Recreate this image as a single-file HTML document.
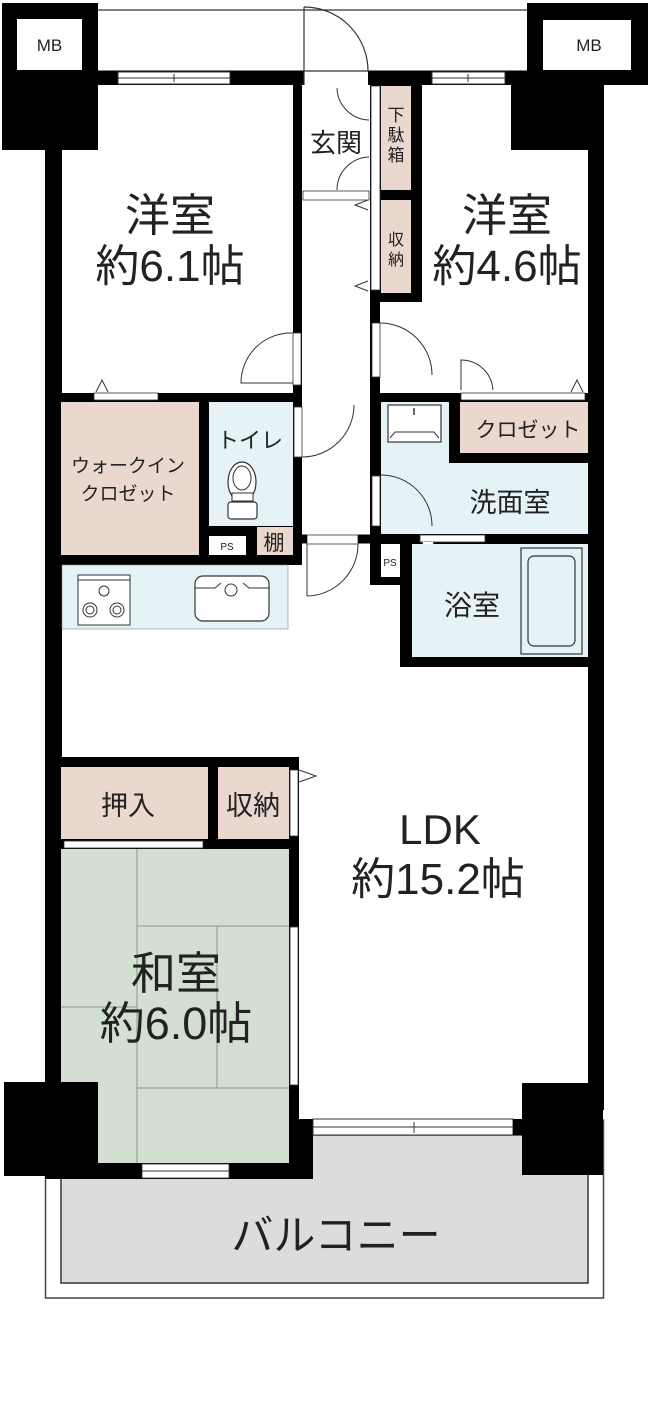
<!DOCTYPE html>
<html><head><meta charset="utf-8"><style>
html,body{margin:0;padding:0;background:#fff;}
svg{display:block;}
text{font-family:"Liberation Sans","Noto Sans CJK JP",sans-serif;fill:#222;}
</style></head><body>
<svg width="648" height="1425" viewBox="0 0 648 1425" xmlns="http://www.w3.org/2000/svg">
<!-- balcony -->
<rect x="45.5" y="1120" width="558" height="178" fill="#fff" stroke="#444" stroke-width="1.5"/>
<rect x="61" y="1135" width="527" height="148" fill="#dcdcdc" stroke="#333" stroke-width="1.5"/>
<!-- corridor outline -->
<line x1="98" y1="10" x2="530" y2="10" stroke="#333" stroke-width="1.2"/>
<line x1="98" y1="71" x2="530" y2="71" stroke="#333" stroke-width="1.2"/>
<!-- MB blocks -->
<rect x="2" y="3" width="96" height="147" fill="#000"/>
<rect x="17" y="19" width="65" height="51" fill="#fff"/>
<text x="49.5" y="51" font-size="17" text-anchor="middle">MB</text>
<rect x="527" y="3" width="121" height="82" fill="#000"/>
<rect x="543" y="20" width="88" height="50" fill="#fff"/>
<text x="589" y="51" font-size="17" text-anchor="middle">MB</text>
<rect x="511" y="80" width="85" height="70" fill="#000"/>
<!-- top wall -->
<rect x="98" y="71" width="206" height="14" fill="#000"/>
<rect x="368" y="71" width="162" height="14" fill="#000"/>
<!-- left outer wall -->
<rect x="45" y="148" width="17" height="1031" fill="#000"/>
<!-- right outer wall -->
<rect x="588" y="80" width="16" height="1030" fill="#000"/>
<!-- windows top -->
<rect x="118" y="72" width="112" height="12" fill="#fff" stroke="#333" stroke-width="1"/>
<line x1="118" y1="78" x2="230" y2="78" stroke="#333"/><line x1="174" y1="74" x2="174" y2="82" stroke="#333"/>
<rect x="432" y="72" width="73" height="12" fill="#fff" stroke="#333" stroke-width="1"/>
<line x1="432" y1="78" x2="505" y2="78" stroke="#333"/><line x1="468" y1="74" x2="468" y2="82" stroke="#333"/>
<!-- entrance door -->
<line x1="304" y1="7" x2="304" y2="85" stroke="#333" stroke-width="1.2"/>
<path d="M304,7 A64,64 0 0 1 368,71" fill="none" stroke="#333" stroke-width="1.2"/>
<!-- corridor walls -->
<rect x="293" y="78" width="9" height="322" fill="#000"/>
<rect x="370" y="71" width="52" height="231" fill="#000"/>
<rect x="371" y="86" width="9" height="204" fill="#fff" stroke="#333" stroke-width="0.8"/>
<rect x="381" y="86" width="30" height="104" fill="#ead8cf"/>
<rect x="381" y="200" width="30" height="93" fill="#ead8cf"/>
<text font-size="17" text-anchor="middle"><tspan x="396" y="121">下</tspan><tspan x="396" y="141">駄</tspan><tspan x="396" y="161">箱</tspan></text>
<text font-size="16" text-anchor="middle"><tspan x="396" y="245">収</tspan><tspan x="396" y="265">納</tspan></text>
<rect x="370" y="300" width="10" height="100" fill="#000"/>
<!-- genkan -->
<rect x="303" y="191" width="66" height="9" fill="#fff" stroke="#333" stroke-width="0.8"/>
<path d="M369,120 A33,33 0 0 1 337,88" fill="none" stroke="#333"/>
<path d="M369,157 A33,33 0 0 0 337,190" fill="none" stroke="#333"/>
<text x="336" y="152" font-size="26" text-anchor="middle">玄関</text>
<path d="M368,200 L355,205 L368,210" fill="#fff" stroke="#333"/>
<path d="M368,281 L355,286 L368,291" fill="#fff" stroke="#333"/>
<!-- room labels top -->
<text x="170" y="231" font-size="45" text-anchor="middle">洋室</text>
<text x="170" y="281" font-size="44" text-anchor="middle">約6.1帖</text>
<text x="507" y="231" font-size="45" text-anchor="middle">洋室</text>
<text x="507" y="281" font-size="44" text-anchor="middle">約4.6帖</text>
<!-- left room door -->
<rect x="293" y="333" width="8" height="52" fill="#fff" stroke="#333" stroke-width="0.8"/>
<path d="M293,333 A50,50 0 0 0 241,383 L293,383" fill="none" stroke="#333"/>
<!-- right room door -->
<rect x="372" y="323" width="8" height="54" fill="#fff" stroke="#333" stroke-width="0.8"/>
<path d="M380,323 A52,52 0 0 1 432,375" fill="none" stroke="#333"/>
<path d="M461,390 L461,360 A32,32 0 0 1 493,390" fill="none" stroke="#333"/>
<!-- triangles -->
<path d="M96,392 L102,380 L108,392" fill="#fff" stroke="#333"/>
<path d="M571,392 L577,380 L583,392" fill="#fff" stroke="#333"/>
<!-- middle horizontal walls -->
<rect x="48" y="393" width="254" height="9" fill="#000"/>
<rect x="94" y="393" width="64" height="7" fill="#fff" stroke="#333" stroke-width="0.8"/>
<rect x="370" y="393" width="234" height="9" fill="#000"/>
<rect x="461" y="393" width="124" height="7" fill="#fff" stroke="#333" stroke-width="0.8"/>
<!-- WIC -->
<rect x="48" y="402" width="254" height="163" fill="#000"/>
<rect x="61" y="402" width="138" height="153" fill="#ead8cf"/>
<text font-size="19" text-anchor="middle"><tspan x="128" y="472">ウォークイン</tspan><tspan x="128" y="500">クロゼット</tspan></text>
<rect x="209" y="402" width="84" height="124" fill="#e5f3f7"/>
<text x="250" y="448" font-size="22" text-anchor="middle">トイレ</text>
<ellipse cx="242" cy="482" rx="14" ry="20" fill="#fff" stroke="#333" stroke-width="1.2"/>
<ellipse cx="242" cy="478" rx="9" ry="12" fill="#fff" stroke="#333"/>
<rect x="232" y="493" width="21" height="8" fill="#fff" stroke="#333"/>
<rect x="228" y="502" width="29" height="17" rx="3" fill="#fff" stroke="#333" stroke-width="1.2"/>
<rect x="209" y="536" width="37" height="19" fill="#fff"/>
<text x="227" y="550" font-size="10" text-anchor="middle">PS</text>
<rect x="257" y="527" width="36" height="28" fill="#ead8cf"/>
<text x="274" y="550" font-size="21" text-anchor="middle">棚</text>
<!-- toilet door -->
<rect x="294" y="407" width="8" height="50" fill="#fff" stroke="#333" stroke-width="0.8"/>
<path d="M354,405 A52,52 0 0 1 302,457" fill="none" stroke="#333"/>
<!-- kitchen -->
<rect x="62" y="565" width="226" height="64" fill="#e5f3f7" stroke="#888" stroke-width="0.6"/>
<rect x="78" y="575" width="52" height="50" fill="#fff" stroke="#333"/>
<line x1="78" y1="580" x2="130" y2="580" stroke="#333"/>
<circle cx="104" cy="591" r="5" fill="#fff" stroke="#333"/>
<circle cx="90" cy="610" r="7" fill="#fff" stroke="#333"/><circle cx="90" cy="610" r="4" fill="none" stroke="#333"/>
<circle cx="117" cy="610" r="7" fill="#fff" stroke="#333"/><circle cx="117" cy="610" r="4" fill="none" stroke="#333"/>
<rect x="195" y="576" width="74" height="45" rx="8" fill="#fff" stroke="#333" stroke-width="1.2"/>
<path d="M195,588 L215,588 L221,583 M269,588 L249,588 L243,583" fill="none" stroke="#333"/>
<circle cx="231" cy="590" r="6" fill="#fff" stroke="#333"/>
<!-- kitchen corridor door -->
<rect x="307" y="535" width="51" height="9" fill="#fff" stroke="#333" stroke-width="0.8"/>
<line x1="302" y1="539" x2="307" y2="539" stroke="#000" stroke-width="9"/>
<line x1="358" y1="539" x2="370" y2="539" stroke="#000" stroke-width="9"/>
<line x1="307" y1="544" x2="307" y2="596" stroke="#333"/>
<path d="M358,544 A52,52 0 0 1 307,596" fill="none" stroke="#333"/>
<!-- right wet area -->
<rect x="370" y="402" width="234" height="265" fill="#000"/>
<rect x="381" y="402" width="207" height="132" fill="#e5f3f7"/>
<rect x="460" y="402" width="128" height="51" fill="#ead8cf"/>
<rect x="449" y="402" width="11" height="61" fill="#000"/>
<rect x="449" y="453" width="139" height="10" fill="#000"/>
<text x="528" y="437" font-size="21" text-anchor="middle">クロゼット</text>
<rect x="388" y="405" width="53" height="37" fill="#fff" stroke="#333" stroke-width="1.2"/>
<path d="M390,438 L395,432 L434,432 L439,438" fill="none" stroke="#333"/>
<line x1="414" y1="408" x2="414" y2="415" stroke="#333" stroke-width="1.5"/>
<text x="510" y="512" font-size="27" text-anchor="middle">洗面室</text>
<rect x="372" y="476" width="8" height="50" fill="#fff" stroke="#333" stroke-width="0.8"/>
<path d="M381,475 A51,51 0 0 1 432,526" fill="none" stroke="#333"/>
<rect x="420" y="535" width="65" height="7" fill="#fff" stroke="#333" stroke-width="0.8"/>
<path d="M422,542 L428,558 L434,542" fill="#fff" stroke="#333"/>
<rect x="381" y="544" width="19" height="33" fill="#fff"/>
<text x="390" y="566" font-size="10" text-anchor="middle">PS</text>
<rect x="400" y="577" width="12" height="90" fill="#000"/>
<rect x="370" y="585" width="30" height="82" fill="#fff"/>
<rect x="412" y="544" width="176" height="113" fill="#e5f3f7"/>
<rect x="521" y="548" width="61" height="106" fill="#e5f3f7" stroke="#333" stroke-width="1.2"/>
<rect x="528" y="556" width="47" height="90" rx="6" fill="#e5f3f7" stroke="#333" stroke-width="1.2"/>
<text x="472" y="615" font-size="28" text-anchor="middle">浴室</text>
<!-- washitsu block -->
<rect x="48" y="757" width="251" height="422" fill="#000"/>
<rect x="61" y="767" width="147" height="72" fill="#ead8cf"/>
<rect x="218" y="767" width="71" height="72" fill="#ead8cf"/>
<rect x="290" y="770" width="8" height="66" fill="#fff" stroke="#333" stroke-width="0.8"/>
<path d="M299,770 L316,776 L299,782" fill="#fff" stroke="#333"/>
<text x="128" y="815" font-size="27" text-anchor="middle">押入</text>
<text x="253" y="815" font-size="27" text-anchor="middle">収納</text>
<rect x="64" y="841" width="139" height="7" fill="#fff" stroke="#333" stroke-width="0.8"/>
<rect x="61" y="849" width="228" height="314" fill="#d3dfd0"/>
<g stroke="#8a9a88" stroke-width="1">
<line x1="137" y1="849" x2="137" y2="1163"/>
<line x1="137" y1="926" x2="289" y2="926"/>
<line x1="217" y1="926" x2="217" y2="1088"/>
<line x1="61" y1="1007" x2="137" y2="1007"/>
<line x1="137" y1="1088" x2="289" y2="1088"/>
</g>
<rect x="290" y="927" width="8" height="158" fill="#fff" stroke="#333" stroke-width="0.8"/>
<text x="176" y="989" font-size="45" text-anchor="middle">和室</text>
<text x="176" y="1039" font-size="45" text-anchor="middle">約6.0帖</text>
<rect x="142" y="1164" width="87" height="14" fill="#fff" stroke="#333" stroke-width="0.8"/>
<line x1="142" y1="1171" x2="229" y2="1171" stroke="#333"/>
<rect x="4" y="1082" width="94" height="94" fill="#000"/>
<!-- LDK bottom -->
<rect x="299" y="1119" width="14" height="60" fill="#000"/>
<rect x="313" y="1119" width="200" height="16" fill="#fff" stroke="#333" stroke-width="1"/>
<line x1="313" y1="1127" x2="513" y2="1127" stroke="#333"/>
<line x1="414" y1="1122" x2="414" y2="1133" stroke="#333"/>
<rect x="513" y="1119" width="10" height="16" fill="#000"/>
<rect x="522" y="1083" width="81" height="92" fill="#000"/>
<text x="440" y="844" font-size="42" text-anchor="middle">LDK</text>
<text x="438" y="894" font-size="44" text-anchor="middle">約15.2帖</text>
<text x="336" y="1250" font-size="42" text-anchor="middle">バルコニー</text>
</svg>
</body></html>
